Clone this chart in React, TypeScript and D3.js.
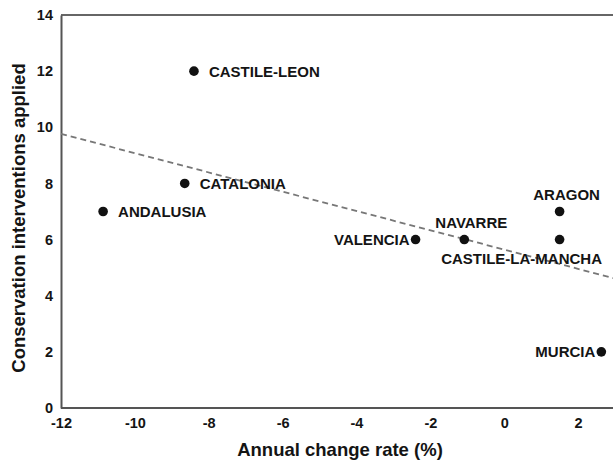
import { useEffect, useRef } from 'react';
import * as d3 from 'd3';

const regions = ['CASTILE-LEON', 'CATALONIA', 'ANDALUSIA', 'VALENCIA', 'NAVARRE', 'CASTILE-LA-MANCHA', 'ARAGON', 'MURCIA'];
const changeRates = [-8.4, -8.65, -10.86, -2.4, -1.08, 1.5, 1.5, 2.63];
const interventions = [12, 8, 7, 6, 6, 6, 7, 2];
// where each label sits relative to its point
const labelSides = ['right', 'right', 'right', 'left', 'above', 'below', 'above', 'left'];
const xTicks = [-12, -10, -8, -6, -4, -2, 0, 2];
const yTicks = [0, 2, 4, 6, 8, 10, 12, 14];

export default function App() {
  const svgRef = useRef<SVGSVGElement>(null);

  useEffect(() => {
    const svg = d3.select(svgRef.current);
    svg.selectAll('*').remove();

    const width = 613;
    const height = 462;
    const margin = { top: 15, right: -2, bottom: 54, left: 61 };

    const data = regions.map((name, i) => ({
      name,
      x: changeRates[i],
      y: interventions[i],
      side: labelSides[i],
    }));

    const x = d3.scaleLinear().domain([-12, 3]).range([margin.left, width - margin.right]);
    const y = d3.scaleLinear().domain([0, 14]).range([height - margin.bottom, margin.top]);

    const font = "'Liberation Sans', Arial, sans-serif";
    const ink = '#141414';

    // top frame line
    svg
      .append('line')
      .attr('x1', margin.left)
      .attr('x2', width)
      .attr('y1', y(14))
      .attr('y2', y(14))
      .attr('stroke', '#666')
      .attr('stroke-width', 1.8);

    // X axis
    const xAxis = svg
      .append('g')
      .attr('transform', `translate(0,${y(0)})`)
      .call(d3.axisBottom(x).tickValues(xTicks).tickSize(0).tickPadding(10).tickFormat(d3.format('d')));
    xAxis.select('.domain').attr('stroke', '#555').attr('stroke-width', 2).attr('d', `M${margin.left},0H${width}`);

    // Y axis
    const yAxis = svg
      .append('g')
      .attr('transform', `translate(${margin.left},0)`)
      .call(d3.axisLeft(y).tickValues(yTicks).tickSize(0).tickPadding(8).tickFormat(d3.format('d')));
    yAxis.select('.domain').attr('stroke', '#555').attr('stroke-width', 2);

    svg
      .selectAll('.tick text')
      .attr('fill', ink)
      .style('font-family', font)
      .style('font-size', '14.5px')
      .style('font-weight', 'bold')
      .text((d: any) => (d < 0 ? `-${-d}` : `${d}`));

    // trend line (least squares fit)
    const mx = d3.mean(changeRates)!;
    const my = d3.mean(interventions)!;
    const slope =
      d3.sum(changeRates, (v, i) => (v - mx) * (interventions[i] - my)) / d3.sum(changeRates, (v) => (v - mx) ** 2);
    const fit = (v: number) => my + slope * (v - mx);
    svg
      .append('line')
      .attr('x1', x(-12))
      .attr('y1', y(fit(-12)))
      .attr('x2', x(3))
      .attr('y2', y(fit(3)))
      .attr('stroke', '#777')
      .attr('stroke-width', 1.8)
      .attr('stroke-dasharray', '6,4');

    // points
    svg
      .selectAll('.pt')
      .data(data)
      .enter()
      .append('circle')
      .attr('class', 'pt')
      .attr('cx', (d) => x(d.x))
      .attr('cy', (d) => y(d.y))
      .attr('r', 4.8)
      .attr('fill', '#111');

    // labels
    svg
      .selectAll('.lbl')
      .data(data)
      .enter()
      .append('text')
      .attr('class', 'lbl')
      .attr('x', (d) => {
        if (d.side === 'right') return x(d.x) + 15;
        if (d.side === 'left') return x(d.x) - 6;
        if (d.side === 'below') return x(d.x) - 38;
        return x(d.x) + 7;
      })
      .attr('y', (d) => {
        if (d.side === 'above') return y(d.y) - 11.5;
        if (d.side === 'below') return y(d.y) + 24.5;
        return y(d.y) + 5.5;
      })
      .attr('text-anchor', (d) => (d.side === 'right' ? 'start' : d.side === 'left' ? 'end' : 'middle'))
      .attr('fill', ink)
      .style('font-family', font)
      .style('font-size', '15px')
      .style('font-weight', 'bold')
      .text((d) => d.name);

    // axis titles
    svg
      .append('text')
      .attr('x', 340)
      .attr('y', 456)
      .attr('text-anchor', 'middle')
      .attr('fill', ink)
      .style('font-family', font)
      .style('font-size', '18.5px')
      .style('font-weight', 'bold')
      .text('Annual change rate (%)');

    svg
      .append('text')
      .attr('transform', `translate(25,218) rotate(-90)`)
      .attr('text-anchor', 'middle')
      .attr('fill', ink)
      .style('font-family', font)
      .style('font-size', '18.5px')
      .style('font-weight', 'bold')
      .text('Conservation interventions applied');
  }, []);

  return (
    <div style={{ position: 'fixed', left: 0, top: 0 }}>
      <svg ref={svgRef} width={613} height={462} style={{ display: 'block', background: '#fff' }}></svg>
    </div>
  );
}
